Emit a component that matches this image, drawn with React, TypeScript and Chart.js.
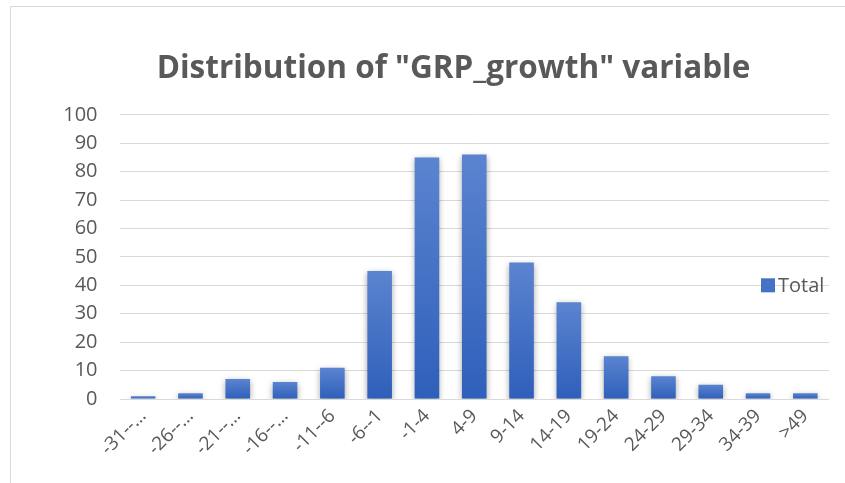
import React, { useEffect, useRef } from "react";
import { Chart, registerables } from "chart.js";

Chart.register(...registerables);

const categories = [
  "-31--…", "-26--…", "-21--…", "-16--…", "-11--6", "-6--1", "-1-4", "4-9",
  "9-14", "14-19", "19-24", "24-29", "29-34", "34-39", ">49",
];
const totalValues = [1, 2, 7, 6, 11, 45, 85, 86, 48, 34, 15, 8, 5, 2, 2];
const yTicks = [0, 10, 20, 30, 40, 50, 60, 70, 80, 90, 100];
const seriesName = "Total";
const titleText = 'Distribution of "GRP_growth" variable';

const FONT = "'Open Sans', 'Liberation Sans', sans-serif";
const TEXT = "#595959";

export default function App() {
  const ref = useRef<HTMLCanvasElement | null>(null);

  useEffect(() => {
    document.body.style.margin = "0";
    const canvas = ref.current;
    if (!canvas) return;

    const shadowPlugin = {
      id: "barShadow",
      beforeDatasetDraw(chart: any) {
        const ctx = chart.ctx;
        ctx.save();
        ctx.shadowColor = "rgba(0,0,0,0.35)";
        ctx.shadowBlur = 6;
        ctx.shadowOffsetX = 0;
        ctx.shadowOffsetY = 2;
      },
      afterDatasetDraw(chart: any) {
        chart.ctx.restore();
      },
    };

    const legendPlugin = {
      id: "sideLegend",
      afterDraw(chart: any) {
        const ctx = chart.ctx;
        const y = chart.scales.y.getPixelForValue(40);
        ctx.save();
        ctx.fillStyle = "#4472C4";
        ctx.fillRect(761, y - 7, 14, 14);
        ctx.fillStyle = TEXT;
        ctx.font = `20px ${FONT}`;
        ctx.textBaseline = "middle";
        ctx.textAlign = "left";
        ctx.fillText(seriesName, 778, y + 1);
        ctx.restore();
      },
    };

    const chart = new Chart(canvas, {
      type: "bar",
      data: {
        labels: categories,
        datasets: [
          {
            label: seriesName,
            data: totalValues,
            backgroundColor: (c: any) => {
              const ch = c.chart;
              const ys = ch.scales && ch.scales.y;
              if (!ys || !ch.chartArea || c.parsed == null) return "#4472C4";
              const top = ys.getPixelForValue(c.parsed.y);
              const bottom = ys.getPixelForValue(0);
              if (!isFinite(top) || !isFinite(bottom) || bottom - top < 1) return "#4472C4";
              const g = ch.ctx.createLinearGradient(0, top, 0, bottom);
              g.addColorStop(0, "#5B84D0");
              g.addColorStop(1, "#2E5FBA");
              return g;
            },
            borderWidth: 0,
            categoryPercentage: 1,
            barPercentage: 0.52,
          },
        ],
      },
      options: {
        animation: false,
        responsive: false,
        layout: { padding: { left: 62, right: 0, top: 0, bottom: 0 } },
        plugins: {
          legend: { display: false },
          tooltip: { enabled: false },
          title: {
            display: true,
            text: titleText,
            color: TEXT,
            font: { family: FONT, size: 31.5, weight: "bold" },
            padding: { top: 50, bottom: 27 },
          },
        },
        scales: {
          x: {
            grid: { display: false, drawTicks: false },
            border: { display: false },
            ticks: {
              color: TEXT,
              font: { family: FONT, size: 19 },
              minRotation: 45,
              maxRotation: 45,
              autoSkip: false,
              padding: 6,
            },
            afterFit: (s: any) => {
              s.height = 84;
            },
          },
          y: {
            min: 0,
            max: 100,
            afterBuildTicks: (s: any) => {
              s.ticks = yTicks.map((v) => ({ value: v }));
            },
            grid: { color: "#D9D9D9", lineWidth: 1, drawTicks: false },
            border: { display: false },
            ticks: {
              color: TEXT,
              font: { family: FONT, size: 20 },
              padding: 22,
            },
            afterFit: (s: any) => {
              s.width = 57.5;
            },
          },
          yRightSpacer: {
            type: "linear",
            position: "right",
            display: true,
            grid: { display: false, drawTicks: false },
            border: { display: false },
            ticks: { display: false },
            afterFit: (s: any) => {
              s.width = 16;
            },
          },
        },
      },
      plugins: [shadowPlugin, legendPlugin],
    } as any);

    return () => chart.destroy();
  }, []);

  return (
    <div style={{ position: "fixed", left: 0, top: 0, width: 845, height: 483, background: "#fff" }}>
      <div
        style={{
          position: "absolute",
          left: 10,
          top: 6,
          width: 860,
          height: 500,
          border: "1px solid #D9D9D9",
          boxSizing: "border-box",
        }}
      />
      <canvas ref={ref} width={845} height={483} style={{ position: "absolute", left: 0, top: 0 }} />
    </div>
  );
}
